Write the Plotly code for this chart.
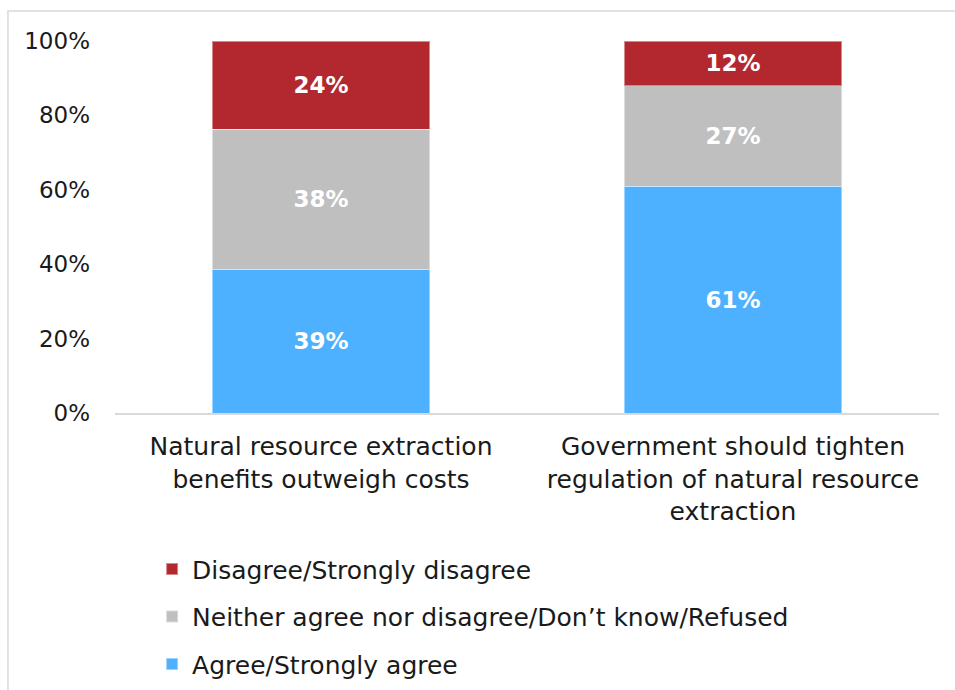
import plotly.graph_objects as go

# Survey statements (x categories)
categories = [
    "Natural resource extraction<br>benefits outweigh costs",
    "Government should tighten<br>regulation of natural resource<br>extraction",
]

# Response shares, in percent
agree = [39, 61]
neither = [38, 27]
disagree = [24, 12]

series_names = [
    "Agree/Strongly agree",
    "Neither agree nor disagree/Don\u2019t know/Refused",
    "Disagree/Strongly disagree",
]
series_colors = ["#4DB1FF", "#BFBFBF", "#B2282E"]
legend_ranks = [3, 2, 1]

y_ticks = [0, 20, 40, 60, 80, 100]
y_tick_labels = ["0%", "20%", "40%", "60%", "80%", "100%"]

FONT = "DejaVu Sans"
TEXT = "#1a1a1a"

fig = go.Figure()
for name, vals, color, rank in zip(series_names, [agree, neither, disagree],
                                   series_colors, legend_ranks):
    fig.add_trace(go.Bar(
        x=categories,
        y=vals,
        name=name,
        legendgroup=name,
        legendrank=rank,
        marker=dict(color=color, line=dict(color="rgba(255,255,255,0.45)", width=1)),
        text=[f"{v}%" for v in vals],
        textposition="inside",
        insidetextanchor="middle",
        textfont=dict(family=FONT, size=23, color="white", weight="bold"),
        textangle=0,
        width=0.527,
    ))

fig.update_layout(
    barmode="stack",
    barnorm="percent",
    width=955,
    height=690,
    margin=dict(l=115, r=16, t=41, b=277, autoexpand=False),
    paper_bgcolor="white",
    plot_bgcolor="white",
    font=dict(family=FONT, size=23, color=TEXT),
    showlegend=True,
    legend=dict(
        traceorder="grouped",
        orientation="v",
        x=0.045,
        xanchor="left",
        y=-0.358,
        yanchor="top",
        font=dict(family=FONT, size=25, color=TEXT),
        itemsizing="constant",
        tracegroupgap=12,
        bgcolor="rgba(0,0,0,0)",
    ),
    xaxis=dict(
        showline=True,
        linecolor="#D9D9D9",
        linewidth=2,
        ticks="",
        showgrid=False,
        ticklabelstandoff=10,
        tickfont=dict(family=FONT, size=25, color=TEXT),
    ),
    yaxis=dict(
        range=[0, 100],
        tickvals=y_ticks,
        ticktext=y_tick_labels,
        showgrid=False,
        zeroline=False,
        showline=False,
        ticks="",
        ticklabelstandoff=24,
        tickfont=dict(family=FONT, size=23, color=TEXT),
    ),
    uniformtext=dict(minsize=10, mode="show"),
    shapes=[
        dict(
            type="rect",
            xref="paper", yref="paper",
            x0=-0.1299, x1=1.2, y0=-1.0, y1=1.0806,
            line=dict(color="#D9D9D9", width=1.5),
            fillcolor="rgba(0,0,0,0)",
            layer="below",
        )
    ],
)

fig.write_html("out.html")
